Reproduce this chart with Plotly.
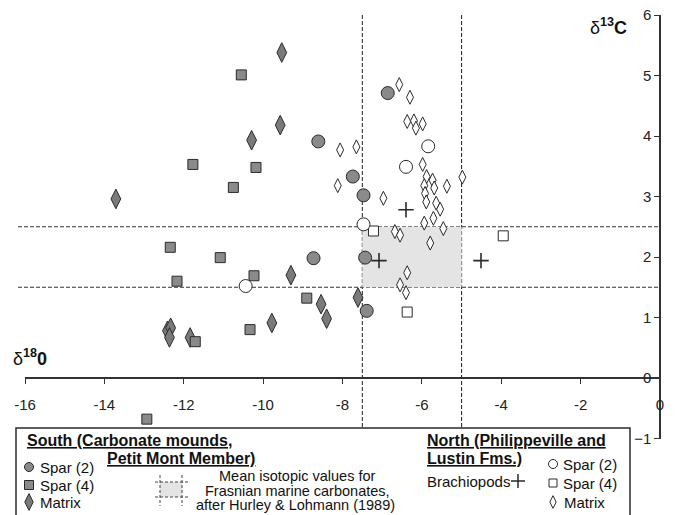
import plotly.graph_objects as go

# ---------------- data ----------------
south_spar2_x = [-8.61, -8.73, -7.43, -7.39, -6.86, -7.74, -7.47]
south_spar2_y = [3.91, 1.98, 1.99, 1.11, 4.71, 3.33, 3.02]

south_spar4_x = [-10.55, -11.77, -10.18, -10.75, -12.34, -11.08, -12.17, -10.23, -8.90, -10.33, -11.71, -12.93]
south_spar4_y = [5.01, 3.53, 3.48, 3.15, 2.16, 1.99, 1.60, 1.69, 1.32, 0.80, 0.60, -0.68]

south_matrix_x = [-9.53, -9.57, -10.29, -13.71, -9.30, -8.54, -8.40, -7.61, -9.78, -12.41, -12.33, -12.36, -11.84]
south_matrix_y = [5.38, 4.18, 3.93, 2.96, 1.70, 1.22, 0.98, 1.33, 0.91, 0.78, 0.83, 0.67, 0.67]

north_spar2_x = [-10.44, -7.47, -5.84, -6.40]
north_spar2_y = [1.52, 2.54, 3.83, 3.49]

north_spar4_x = [-7.22, -3.95, -6.37]
north_spar4_y = [2.43, 2.35, 1.09]

brach_x = [-6.40, -7.08, -4.51]
brach_y = [2.78, 1.94, 1.94]

north_matrix_x = [-6.57, -6.30, -6.37, -6.20, -6.15, -5.98, -8.06, -7.65, -8.12, -6.97,
                  -5.98, -5.88, -5.94, -5.73, -5.69, -5.92, -5.89, -5.64, -5.54, -5.37,
                  -4.98, -5.71, -5.94, -5.46, -6.68, -6.55, -5.79, -6.37, -6.55, -6.40]
north_matrix_y = [4.85, 4.64, 4.24, 4.25, 4.13, 4.20, 3.77, 3.82, 3.18, 2.97,
                  3.53, 3.33, 3.18, 3.27, 3.14, 3.05, 2.91, 2.89, 2.79, 3.17,
                  3.32, 2.64, 2.56, 2.47, 2.42, 2.36, 2.23, 1.74, 1.54, 1.41]

# Hurley & Lohmann (1989) mean Frasnian marine carbonate window
ref_d18o = [-7.5, -5.0]
ref_d13c = [1.5, 2.5]

x_ticks = [-16, -14, -12, -10, -8, -6, -4, -2, 0]
y_ticks = [-1, 0, 1, 2, 3, 4, 5, 6]

# ---------------- styling ----------------
W, H = 675, 515
FONT = "Liberation Sans, Arial, sans-serif"
GRAY = "#8a8a8a"
DARK = "#2a2a2a"

def fx(px):
    return px / W

def fy(py):
    return (H - py) / H

X_END = 0.02                      # tiny overshoot so the "0" tick label is kept
PPU = (660 - 25) / 16.0           # pixels per δ18O unit
x_dom = [fx(25), fx(660 + X_END * PPU)]
y_dom = [fy(438.5), fy(15)]
x_axis_pos = y_dom[0] + (y_dom[1] - y_dom[0]) * (0 - (-1)) / 7.0

fig = go.Figure()

def add(x, y, symbol, size, fill, name, lw=1.0):
    fig.add_trace(go.Scatter(
        x=x, y=y, mode="markers", name=name,
        marker=dict(symbol=symbol, size=size, color=fill,
                    line=dict(color=DARK, width=lw)),
        showlegend=False, hoverinfo="x+y+name"))

add(north_matrix_x, north_matrix_y, "diamond-tall", 10, "white", "North Matrix")
add(south_matrix_x, south_matrix_y, "diamond-tall", 14, "#7a7a7a", "South Matrix")
add(south_spar4_x, south_spar4_y, "square", 10, GRAY, "South Spar (4)")
add(south_spar2_x, south_spar2_y, "circle", 13, GRAY, "South Spar (2)")
add(north_spar4_x, north_spar4_y, "square", 10, "white", "North Spar (4)")
add(north_spar2_x, north_spar2_y, "circle", 13, "white", "North Spar (2)")
fig.add_trace(go.Scatter(
    x=brach_x, y=brach_y, mode="markers", name="Brachiopods",
    marker=dict(symbol="cross-thin-open", size=11, color=DARK,
                line=dict(color=DARK, width=1.6)),
    showlegend=False))

# shaded reference window + dashed guide lines
fig.add_shape(type="rect", xref="x", yref="y", x0=ref_d18o[0], x1=ref_d18o[1],
              y0=ref_d13c[0], y1=ref_d13c[1], fillcolor="#e4e4e4",
              line=dict(width=0), layer="below")
dash = dict(color="#333", width=1.1, dash="4px,2px")
for yv in ref_d13c:
    fig.add_shape(type="line", xref="paper", yref="y", x0=fx(18), x1=fx(660),
                  y0=yv, y1=yv, line=dash, layer="below")
for xv in ref_d18o:
    fig.add_shape(type="line", xref="x", yref="paper", x0=xv, x1=xv,
                  y0=fy(427), y1=fy(15), line=dash, layer="below")

# ---------------- legend block (pixel-space overlay axes) ----------------
P = dict(xref="x2", yref="y2")
fig.add_shape(type="rect", x0=16, x1=630, y0=428, y1=520,
              line=dict(color=DARK, width=1.5), fillcolor="white", layer="below", **P)

def txt(x, y, s, size=15, anchor="left"):
    fig.add_annotation(x=x, y=y, text=s, showarrow=False, xanchor=anchor,
                       yanchor="middle", font=dict(family=FONT, size=size, color="#111"),
                       **P)

txt(25, 440, "<b><u>South (Carbonate mounds,</u></b>", 16)
txt(105, 458, "<b><u>Petit Mont Member)</u></b>", 16)
txt(425, 440, "<b><u>North (Philippeville and</u></b>", 16)
txt(425, 458, "<b><u>Lustin Fms.)</u></b>", 16)

txt(38, 467, "Spar (2)", 15)
txt(38, 485, "Spar (4)", 15)
txt(38, 502, "Matrix", 15)
txt(297, 476, "Mean isotopic values for", 14.5, "center")
txt(297, 490.5, "Frasnian marine carbonates,", 14.5, "center")
txt(295, 505, "after Hurley &amp; Lohmann (1989)", 14.5, "center")
txt(425, 481, "Brachiopods", 15)
txt(561, 464, "Spar (2)", 15)
txt(561, 483, "Spar (4)", 15)
txt(562, 502, "Matrix", 15)

def key(x, y, symbol, size, fill, lw=1.0):
    fig.add_trace(go.Scatter(x=[x], y=[y], xaxis="x2", yaxis="y2", mode="markers",
                             marker=dict(symbol=symbol, size=size, color=fill,
                                         line=dict(color=DARK, width=lw)),
                             showlegend=False, hoverinfo="skip"))

key(29, 467, "circle", 9, GRAY)
key(29, 485, "square", 9, GRAY)
key(29, 502, "diamond-tall", 12, "#7a7a7a")
key(518, 481, "cross-thin-open", 10, DARK, 1.5)
key(553, 464, "circle", 9, "white")
key(553, 483, "square", 8, "white")
key(553, 502, "diamond-tall", 9, "white")

# legend key for the shaded window
fig.add_shape(type="rect", x0=160, x1=182, y0=482, y1=497, fillcolor="#e4e4e4",
              line=dict(width=0), layer="below", **P)
ldash = dict(color="#444", width=1, dash="3px,2px")
for yy in (482, 497):
    fig.add_shape(type="line", x0=155, x1=188, y0=yy, y1=yy, line=ldash, **P)
for xx in (160, 182):
    fig.add_shape(type="line", x0=xx, x1=xx, y0=475, y1=506, line=ldash, **P)

# axis titles
fig.add_annotation(xref="x2", yref="y2", x=11, y=357, xanchor="left", yanchor="middle",
                   text="δ<b><sup>18</sup>0</b>", showarrow=False,
                   font=dict(family=FONT, size=18, color="#111"))
fig.add_annotation(xref="x2", yref="y2", x=629, y=26, xanchor="right", yanchor="middle",
                   text="δ<b><sup>13</sup>C</b>", showarrow=False,
                   font=dict(family=FONT, size=18, color="#111"))

fig.update_layout(
    width=W, height=H, margin=dict(l=0, r=0, t=0, b=0, autoexpand=False),
    paper_bgcolor="white", plot_bgcolor="rgba(0,0,0,0)",
    font=dict(family=FONT, size=14, color="#222"),
    xaxis=dict(domain=x_dom, range=[-16, X_END], anchor="free", position=x_axis_pos,
               tickvals=x_ticks, ticktext=[str(v) for v in x_ticks],
               ticks="outside", ticklen=5, tickcolor="#333", tickwidth=1.2,
               showline=True, linecolor="#333", linewidth=1.5,
               showgrid=False, zeroline=False, ticklabelstandoff=8, automargin=False,
               tickfont=dict(family=FONT, size=15, color="#222")),
    yaxis=dict(domain=y_dom, range=[-1, 6], anchor="free", position=fx(660), side="left",
               tickvals=y_ticks, ticks="outside", ticklen=5, tickcolor="#333", tickwidth=1.2,
               showline=True, linecolor="#333", linewidth=1.5,
               showgrid=False, zeroline=False, automargin=False,
               tickfont=dict(family=FONT, size=15, color="#222")),
    xaxis2=dict(domain=[0, 1], range=[0, W], visible=False, anchor="y2", fixedrange=True,
                automargin=False),
    yaxis2=dict(domain=[0, 1], range=[H, 0], visible=False, anchor="x2", fixedrange=True,
                automargin=False),
)

fig.write_html("out.html", config={"displayModeBar": False},
               post_script="document.body.style.margin='0';document.body.style.overflow='hidden';")
